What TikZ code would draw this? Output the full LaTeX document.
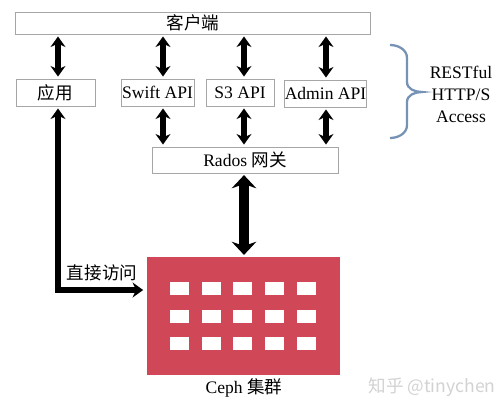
\documentclass[tikz,border=0pt]{standalone}
\usepackage{fontspec}
\setmainfont{Liberation Serif}
\newfontfamily\cjk{Noto Sans CJK SC}
\usepackage{tikz}
\usetikzlibrary{arrows.meta,positioning}
\definecolor{cephred}{RGB}{208,72,88}
\definecolor{bracegray}{RGB}{118,146,180}

\begin{document}
\begin{tikzpicture}[
  x=0.02cm, y=-0.02cm,
  font=\fontsize{10}{12.5}\selectfont,
  box/.style={draw=gray!70,fill=white,inner sep=0pt,minimum height=.54cm},
  cluster/.style={fill=cephred,inner sep=0pt,minimum width=3.86cm,minimum height=2.36cm},
  dbl/.style={{Stealth[length=6pt,width=8.5pt]}-{Stealth[length=6pt,width=8.5pt]},
    line width=3pt,shorten <=1.2pt,shorten >=1.2pt},
  big/.style={{Stealth[length=7.5pt,width=14pt]}-{Stealth[length=7.5pt,width=14pt]},
    line width=5.5pt,shorten <=1pt,shorten >=1pt},
  every node/.style={align=center}]

  \useasboundingbox (0,0) rectangle (500,410);

  % Boxes
  \node[box,minimum width=7.1cm,minimum height=.44cm] (client) at (193,23) {\cjk 客户端};
  \node[box,minimum width=1.58cm] (app) at (55.5,92.5) {\cjk 应用};
  \node[box,minimum width=1.46cm] (swift) at (157.5,92.5) {Swift API};
  \node[box,minimum width=1.36cm] (s3) at (240,92.5) {S3 API};
  \node[box,minimum width=1.54cm] (admin) at (325.5,93.5) {Admin API};
  \node[box,minimum width=3.72cm,minimum height=.52cm] (rados) at (245,160) {Rados {\cjk 网关}};
  \node[cluster] (ceph) at (243.5,316) {};
  \node (cephlabel) at (244,388) {Ceph {\cjk 集群}};

  % white cells of the cluster
  \foreach \i in {0,...,4}
    \foreach \j in {0,...,2}
      \fill[white] ({179.5+31.7*\i-9.5},{288.5+27.5*\j-6.5}) rectangle +(19,13);

  % arrow columns
  \coordinate (c1) at (58,0);
  \coordinate (c2) at (163,0);
  \coordinate (c3) at (244,0);
  \coordinate (c4) at (326,0);
  \coordinate (dl) at (58,290);

  % Arrows
  \draw[dbl] (client.south -| c1) -- (app.north -| c1);
  \draw[dbl] (client.south -| c2) -- (swift.north -| c2);
  \draw[dbl] (client.south -| c3) -- (s3.north -| c3);
  \draw[dbl] (client.south -| c4) -- (admin.north -| c4);
  \draw[dbl] (swift.south -| c2) -- (rados.north -| c2);
  \draw[dbl] (s3.south -| c3) -- (rados.north -| c3);
  \draw[dbl] (admin.south -| c4) -- (rados.north -| c4);
  \draw[big] (rados.south -| c3) -- (ceph.north -| c3);
  \draw[dbl,line join=miter,shorten >=2pt] (app.south -| dl) -- (dl) -- (dl -| ceph.west);
  \node (direct) at (102,273) {\cjk 直接访问};

  % Brace and label
  \draw[bracegray,line width=1.3pt] (390,45) to[out=0,in=90] (407,58) -- (407,82)
    to[out=-90,in=180] (422,92) to[out=180,in=90] (407,102) -- (407,125)
    to[out=-90,in=0] (390,138);
  \node (rest) at (461,94) {RESTful\\HTTP/S\\Access};

  \node[text=gray!35] (mark) at (432,387) {\cjk 知乎 @tinychen};

\end{tikzpicture}
\end{document}
